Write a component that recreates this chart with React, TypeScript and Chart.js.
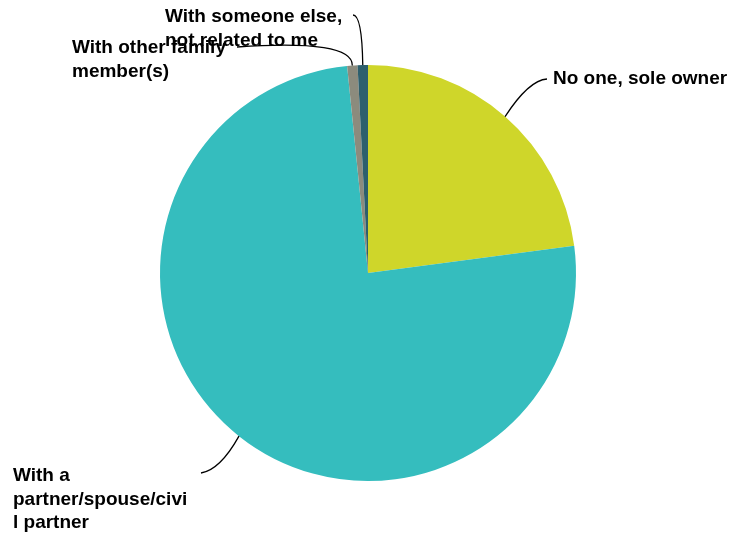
import React, { useEffect, useRef } from "react";
import { Chart, registerables } from "chart.js";

Chart.register(...registerables);

const categories = [
  "No one, sole owner",
  "With a partner/spouse/civil partner",
  "With other family member(s)",
  "With someone else, not related to me",
];
const values = [22.9, 75.5, 0.8, 0.8];
const colors = ["#CFD62A", "#35BDBE", "#8C8B7D", "#2D5F6D"];

// label layout (canvas coords): text lines, text x, first-line center y, line end, control
const labelLayout = [
  { lines: ["No one, sole owner"], tx: 545, ty: 71, ex: 539, ey: 71, cx: 521, cy: 72 },
  { lines: ["With a", "partner/spouse/civi", "l partner"], tx: 5, ty: 468, ex: 193, ey: 465, cx: 212, cy: 462 },
  { lines: ["With other family", "member(s)"], tx: 64, ty: 40, ex: 229, ey: 39, cx: 345, cy: 31 },
  { lines: ["With someone else,", "not related to me"], tx: 157, ty: 9, ex: 345, ey: 7, cx: 354, cy: 7 },
];

const leaderPlugin = {
  id: "leaders",
  afterDraw(chart: any) {
    const ctx = chart.ctx;
    const meta = chart.getDatasetMeta(0);
    ctx.save();
    meta.data.forEach((arc: any, i: number) => {
      const L = labelLayout[i];
      if (!L) return;
      const mid = (arc.startAngle + arc.endAngle) / 2;
      const ax = arc.x + Math.cos(mid) * arc.outerRadius;
      const ay = arc.y + Math.sin(mid) * arc.outerRadius;
      ctx.beginPath();
      ctx.moveTo(ax, ay);
      ctx.quadraticCurveTo(L.cx, L.cy, L.ex, L.ey);
      ctx.strokeStyle = "#000";
      ctx.lineWidth = 1.3;
      ctx.stroke();
      ctx.fillStyle = "#000";
      ctx.font = "bold 19px 'Liberation Sans', Arial, sans-serif";
      ctx.textAlign = "left";
      ctx.textBaseline = "middle";
      L.lines.forEach((t, j) => ctx.fillText(t, L.tx, L.ty + j * 23.3));
    });
    ctx.restore();
  },
};

export default function App() {
  const ref = useRef<HTMLCanvasElement>(null);
  useEffect(() => {
    if (!ref.current) return;
    const chart = new Chart(ref.current, {
      type: "pie",
      data: {
        labels: categories,
        datasets: [{ data: values, backgroundColor: colors, borderWidth: 0 }],
      },
      options: {
        animation: false,
        responsive: true,
        maintainAspectRatio: false,
        layout: { padding: { top: 57, bottom: 52, left: 0, right: 0 } },
        plugins: { legend: { display: false }, tooltip: { enabled: false } },
      },
      plugins: [leaderPlugin],
    });
    return () => chart.destroy();
  }, []);
  return (
    <div style={{ width: 720, height: 525, position: "relative" }}>
      <canvas ref={ref} />
    </div>
  );
}
